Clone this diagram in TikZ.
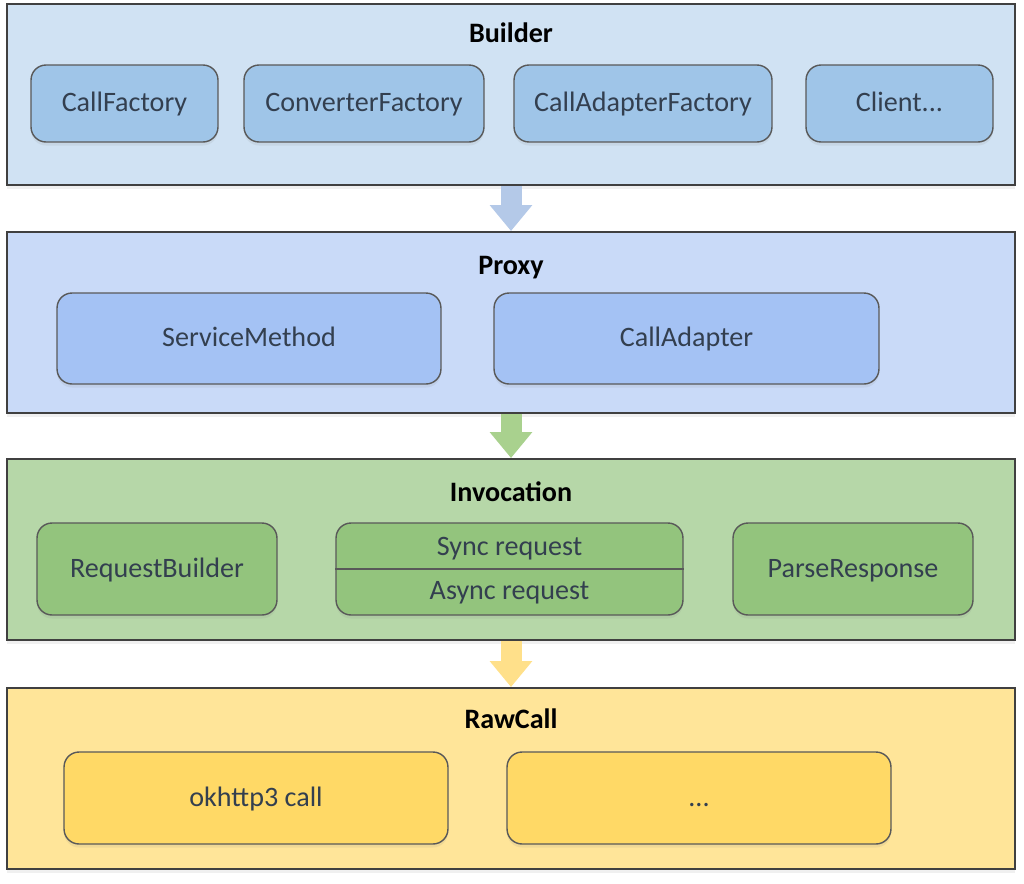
\documentclass[tikz,border=0pt]{standalone}
\usepackage{fontspec}
\setmainfont{Carlito}
\usetikzlibrary{arrows.meta,shadows}
\definecolor{builderbg}{HTML}{D0E2F3}
\definecolor{builderfg}{HTML}{9FC5E8}
\definecolor{proxybg}{HTML}{C9DAF8}
\definecolor{proxyfg}{HTML}{A4C2F4}
\definecolor{invokebg}{HTML}{B6D7A8}
\definecolor{invokefg}{HTML}{93C47D}
\definecolor{rawbg}{HTML}{FFE599}
\definecolor{rawfg}{HTML}{FFD966}
\definecolor{bluearrow}{HTML}{B4C9E8}
\definecolor{greenarrow}{HTML}{A9D18E}
\definecolor{yellowarrow}{HTML}{FFE08A}
\definecolor{layerline}{HTML}{404040}
\definecolor{partline}{HTML}{595959}
\definecolor{parttext}{HTML}{333F4F}
\tikzset{
  layer/.style = {
    draw=layerline, line width=1.1pt,
    minimum width=20.16cm, minimum height=3.62cm,
    drop shadow={opacity=0.12, shadow xshift=0pt, shadow yshift=-2pt}
  },
  label/.style = {text=parttext, font=\fontsize{16}{19}\selectfont, text height=12pt, text depth=2.4pt},
  part/.style = {
    label, draw=partline, line width=0.8pt, rounded corners=0.3cm,
    drop shadow={opacity=0.12, shadow xshift=0pt, shadow yshift=-2pt}
  },
  title/.style = {font=\fontsize{16}{19}\selectfont\bfseries, text height=12pt, text depth=2.4pt},
  flow/.style = {line width=0.42cm, -{Triangle[width=0.82cm,length=0.52cm]}}
}

\begin{document}
\begin{tikzpicture}[x=0.02cm,y=-0.02cm]
  \useasboundingbox (0,0) rectangle (1024,883);
  % layers
  \node[layer, fill=builderbg] (builder) at (511,94.5)  {};
  \node[layer, fill=proxybg]   (proxy)   at (511,322.5) {};
  \node[layer, fill=invokebg]  (invoke)  at (511,549.5) {};
  \node[layer, fill=rawbg]     (raw)     at (511,778.5) {};
  % titles
  \node[title] (buildertitle) at (511,34)  {Builder};
  \node[title] (proxytitle)   at (511,266) {Proxy};
  \node[title] (invoketitle)  at (511,493) {Invocation};
  \node[title] (rawtitle)     at (511,720) {RawCall};
  % builder parts
  \foreach \n/\x/\w/\t in {callfactory/124.5/3.74/{CallFactory},
                           convfactory/364/4.8/{ConverterFactory},
                           adapterfactory/643/5.16/{CallAdapterFactory},
                           client/899.5/3.74/{Client...}}
    \node[part, fill=builderfg, minimum width=\w cm, minimum height=1.54cm] (\n) at (\x,103.5) {\t};
  % proxy parts
  \node[part, fill=proxyfg, minimum width=7.68cm, minimum height=1.82cm] (servicemethod) at (249,338.5) {ServiceMethod};
  \node[part, fill=proxyfg, minimum width=7.7cm, minimum height=1.82cm] (calladapter) at (686.5,338.5) {CallAdapter};
  % invocation parts
  \node[part, fill=invokefg, minimum width=4.8cm, minimum height=1.84cm] (reqbuilder) at (157,569) {RequestBuilder};
  \node[part, fill=invokefg, minimum width=6.94cm, minimum height=1.84cm] (request) at (509.5,569) {};
  \node[part, fill=invokefg, minimum width=4.8cm, minimum height=1.84cm] (parseresp) at (853,569) {ParseResponse};
  \draw[partline, line width=0.8pt] (request.west) -- (request.east);
  \node[label] (syncreq) at (509.5,547) {Sync request};
  \node[label] (asyncreq) at (509.5,591) {Async request};
  % rawcall parts
  \node[part, fill=rawfg, minimum width=7.68cm, minimum height=1.84cm] (okcall) at (256,798) {okhttp3 call};
  \node[part, fill=rawfg, minimum width=7.68cm, minimum height=1.84cm] (othercall) at (699,798) {...};
  % arrows
  \foreach \a/\b/\c in {builder/proxy/bluearrow, proxy/invoke/greenarrow, invoke/raw/yellowarrow}
    \draw[flow, \c] (\a.south) -- (\b.north);
\end{tikzpicture}
\end{document}
